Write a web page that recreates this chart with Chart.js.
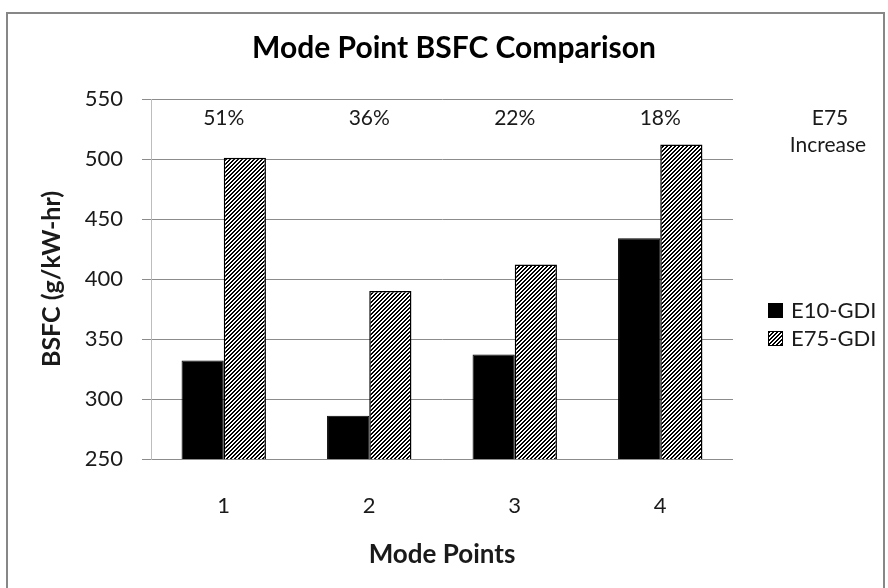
<!DOCTYPE html>
<html>
<head>
<meta charset="utf-8">
<script src="https://cdn.jsdelivr.net/npm/chart.js@4.4.1/dist/chart.umd.min.js"></script>
<style>
    html, body { margin: 0; padding: 0; background: #ffffff; }
    #wrap { width: 888px; height: 588px; }
</style>
</head>
<body>
<div id="wrap"><canvas id="bsfcChart" width="888" height="588"></canvas></div>
<script>
const modePoints = ['1', '2', '3', '4'];
const e10Values = [332, 286, 337, 434];
const e75Values = [501, 390, 412, 512];
const increaseLabels = ['51%', '36%', '22%', '18%'];
const yTicks = [250, 300, 350, 400, 450, 500, 550];

const FONT = 'Lato, "Open Sans", sans-serif';
const TEXT = '#1a1a1a';

// upward diagonal hatch like the excel pattern fill
function makeHatch() {
    const c = document.createElement('canvas');
    c.width = 8;
    c.height = 8;
    const g = c.getContext('2d');
    g.fillStyle = '#ffffff';
    g.fillRect(0, 0, 8, 8);
    g.fillStyle = '#000000';
    for (let x = 0; x < 8; x++) {
        for (let y = 0; y < 8; y++) {
            if ((x + y) % 4 < 2) g.fillRect(x, y, 1, 1);
        }
    }
    return g.createPattern(c, 'repeat');
}

const ctx = document.getElementById('bsfcChart').getContext('2d');
const hatch = makeHatch();

const framePlugin = {
    id: 'frame',
    beforeDraw(chart) {
        const c = chart.ctx;
        c.save();
        c.fillStyle = '#ffffff';
        c.fillRect(0, 0, chart.width, chart.height);
        c.strokeStyle = '#878787';
        c.lineWidth = 2;
        c.strokeRect(7, 13, 877, 600);
        c.restore();
    }
};

const notesPlugin = {
    id: 'notes',
    afterDraw(chart) {
        const c = chart.ctx;
        const x = chart.scales.x;
        const y = chart.scales.y;
        c.save();
        // chart title, centred a bit right of the plot like the original
        c.fillStyle = '#000000';
        c.font = 'bold 30px ' + FONT;
        c.textAlign = 'center';
        c.textBaseline = 'alphabetic';
        c.fillText('Mode Point BSFC Comparison', 454, 58);

        c.fillStyle = TEXT;
        c.font = '21px ' + FONT;
        c.textBaseline = 'middle';
        increaseLabels.forEach((t, i) => {
            c.fillText(t, x.getPixelForValue(i), y.top + 19);
        });
        c.fillText('E75', 830, y.top + 19);
        c.fillText('Increase', 828, y.top + 46);

        // legend
        const items = chart.data.datasets;
        c.textAlign = 'left';
        c.font = '22px ' + FONT;
        items.forEach((ds, i) => {
            const cy = 310 + i * 28;
            c.fillStyle = ds.backgroundColor;
            c.fillRect(768, cy - 7, 15, 15);
            c.strokeStyle = '#000000';
            c.lineWidth = 1;
            c.strokeRect(768.5, cy - 6.5, 14, 14);
            c.fillStyle = TEXT;
            c.fillText(ds.label, 791, cy + 1);
        });
        c.restore();
    }
};

new Chart(ctx, {
    type: 'bar',
    data: {
        labels: modePoints,
        datasets: [{
            label: 'E10-GDI',
            data: e10Values,
            backgroundColor: '#000000',
            borderColor: '#000000',
            borderWidth: 1
        }, {
            label: 'E75-GDI',
            data: e75Values,
            backgroundColor: hatch,
            borderColor: '#000000',
            borderWidth: 1.5
        }]
    },
    options: {
        responsive: false,
        animation: false,
        layout: {
            padding: { left: 0, right: 155, top: 99, bottom: 0 }
        },
        datasets: {
            bar: { categoryPercentage: 0.58, barPercentage: 1 }
        },
        scales: {
            x: {
                grid: { display: false },
                border: { display: false },
                ticks: {
                    color: TEXT,
                    padding: 26,
                    font: { family: FONT, size: 22 }
                },
                title: {
                    display: true,
                    text: 'Mode Points',
                    color: TEXT,
                    padding: { top: 0, bottom: 18 },
                    font: { family: FONT, size: 26, weight: 'bold' }
                },
                afterFit(scale) { scale.height = 129; }
            },
            y: {
                min: 250,
                max: 550,
                afterBuildTicks(scale) {
                    scale.ticks = yTicks.map(v => ({ value: v }));
                },
                grid: {
                    color: '#8c8c8c',
                    tickColor: '#8c8c8c',
                    tickLength: 9
                },
                border: { display: true, color: '#bdbdbd' },
                ticks: {
                    color: TEXT,
                    padding: 19,
                    font: { family: FONT, size: 22 }
                },
                title: {
                    display: true,
                    text: 'BSFC (g/kW-hr)',
                    color: TEXT,
                    padding: { top: 37, bottom: 0 },
                    font: { family: FONT, size: 25, weight: 'bold' }
                },
                afterFit(scale) { scale.width = 151; }
            }
        },
        plugins: {
            legend: { display: false },
            tooltip: { enabled: false },
            title: { display: false }
        }
    },
    plugins: [framePlugin, notesPlugin]
});
</script>
</body>
</html>
